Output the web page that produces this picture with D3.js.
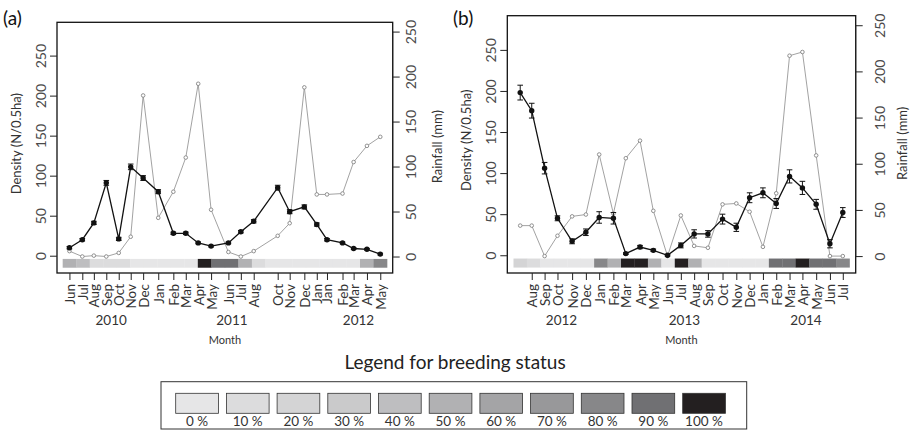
<!DOCTYPE html>
<html><head><meta charset="utf-8">
<script src="https://cdn.jsdelivr.net/npm/d3@7"></script>
<style>
body{margin:0;background:#fff}
text{font-family:Lato,"Open Sans",sans-serif}
</style>
</head><body>
<svg id="chart" width="911" height="440"></svg>
<script>
// ---------------- DATA ----------------
// Panel (a)
const datesA = ["2010-06-20","2010-07-19","2010-08-14","2010-09-11","2010-10-09","2010-11-05","2010-12-03",
  "2011-01-06","2011-02-09","2011-03-09","2011-04-06","2011-05-05","2011-06-13","2011-07-11","2011-08-09",
  "2011-10-02","2011-10-29","2011-12-01","2011-12-29","2012-01-21","2012-02-25","2012-03-21","2012-04-20","2012-05-20"];
const monthsA = ["Jun","Jul","Aug","Sep","Oct","Nov","Dec","Jan","Feb","Mar","Apr","May",
  "Jun","Jul","Aug","Oct","Nov","Dec","Jan","Jan","Feb","Mar","Apr","May"];
const densityA = [10,20,41,91,21,111,97,80,28,28,16,12,16,30,43,85,55,61,39,20,16,9,8,2];
const densityErrA = [1.5,1.5,2,3,2,3.5,3,2.5,1.5,1.5,1,1,1,1.5,2,3,2.5,2.5,2,1.5,1,1,1,1];
const rainA = [6,0,1,0,4,22,179,43,72,110,192,52,5,0,6,23,37,188,69,69,70,105,123,133];
const breedA = [50,40,10,10,10,0,0,0,0,0,100,90,90,50,10,0,0,0,0,0,0,0,50,80];
const yearsA = ["2010","2011","2012"];
const yearDatesA = ["2010-09-22","2011-06-21","2012-04-01"];

// Panel (b)
const datesB = ["2012-07-15","2012-08-10","2012-09-08","2012-10-07","2012-11-09","2012-12-10",
  "2013-01-09","2013-02-10","2013-03-10","2013-04-11","2013-05-11","2013-06-12","2013-07-12","2013-08-11",
  "2013-09-11","2013-10-14","2013-11-14","2013-12-14","2014-01-13","2014-02-12","2014-03-14","2014-04-12",
  "2014-05-13","2014-06-13","2014-07-12"];
const monthsB = ["","Aug","Sep","Oct","Nov","Dec","Jan","Feb","Mar","Apr","May","Jun","Jul",
  "Aug","Sep","Oct","Nov","Dec","Jan","Feb","Mar","Apr","May","Jun","Jul"];
const densityB = [198,176,106,45,17,28,46,45,2,10,6,0,12,26,26,44,34,70,76,63,96,82,62,14,52];
const densityErrB = [9,9,7,3,3,4,7,7,1,2,1.5,1,3,5,4,6,5,6,6,6,8,8,6,5,6];
const rainB = [33,33,0,22,43,45,110,46,106,125,49,0,44,11,9,56,57,48,10,68,217,221,109,0,0];
const breedB = [20,10,0,0,0,0,80,50,100,100,50,0,100,50,0,0,0,0,0,90,90,100,90,90,80];
const yearsB = ["2012","2013","2014"];
const yearDatesB = ["2012-10-16","2013-07-20","2014-04-20"];

// Axes / legend
const yTicks = [0,50,100,150,200,250];
const breedLevels = [0,10,20,30,40,50,60,70,80,90,100];
const breedColors = ["#e6e6e7","#dcdcdd","#d4d4d5","#cacacb","#bebec0","#b1b1b3","#a4a4a6","#98989a","#878789","#707073","#231f20"];

// ---------------- DRAW ----------------
const svg = d3.select("#chart");
const parse = d3.timeParse("%Y-%m-%d");
const colorOf = d3.scaleOrdinal().domain(breedLevels).range(breedColors);
const pad = (lo, hi) => { const r = hi - lo; return [lo - 0.04*r, hi + 0.04*r]; };

function drawPanel(cfg) {
  const g = svg.append("g");
  const dates = cfg.dates.map(parse);
  const ext = d3.extent(dates, d => +d);
  const xd = pad(ext[0], ext[1]);
  const x = d3.scaleTime().domain([new Date(xd[0]), new Date(xd[1])]).range([cfg.left, cfg.right]);
  const yL = d3.scaleLinear().domain(pad(-10, 280)).range([cfg.bottom, cfg.top]);
  const yR = d3.scaleLinear().domain(pad(-8, 250)).range([cfg.bottom, cfg.top]);

  // breeding strip (index based)
  const n = dates.length;
  const x0 = x(dates[0]), x1 = x(dates[n-1]);
  const step = (x1 - x0) / (n - 1);
  const xi = d3.scaleLinear().domain([0, n-1]).range([x0, x1]);
  g.selectAll("rect.strip").data(cfg.breed).join("rect")
    .attr("x", (d,i) => xi(i) - step/2)
    .attr("width", step + 0.3)
    .attr("y", yL(-4))
    .attr("height", yL(-15) - yL(-4))
    .attr("fill", d => colorOf(d));

  // rainfall
  const rainPts = cfg.rain.map((v,i) => [x(dates[i]), yR(v)]);
  g.append("path").attr("d", d3.line()(rainPts))
    .attr("fill","none").attr("stroke","#979797").attr("stroke-width",0.9);
  g.selectAll("circle.rain").data(rainPts).join("circle")
    .attr("cx", d => d[0]).attr("cy", d => d[1]).attr("r", 1.8)
    .attr("fill","#fff").attr("stroke","#858585").attr("stroke-width",0.9);

  // density
  const denPts = cfg.density.map((v,i) => [x(dates[i]), yL(v)]);
  g.append("path").attr("d", d3.line()(denPts))
    .attr("fill","none").attr("stroke","#111").attr("stroke-width",1.3);
  cfg.density.forEach((v,i) => {
    const e = cfg.err[i], cx = x(dates[i]);
    g.append("line").attr("x1",cx).attr("x2",cx).attr("y1",yL(v-e)).attr("y2",yL(v+e))
      .attr("stroke","#111").attr("stroke-width",1);
    [v-e, v+e].forEach(w => g.append("line").attr("x1",cx-2.8).attr("x2",cx+2.8)
      .attr("y1",yL(w)).attr("y2",yL(w)).attr("stroke","#111").attr("stroke-width",1));
  });
  g.selectAll("circle.den").data(denPts).join("circle")
    .attr("cx", d => d[0]).attr("cy", d => d[1]).attr("r", 2.7).attr("fill","#111");

  // box
  g.append("rect").attr("x",cfg.left).attr("y",cfg.top)
    .attr("width",cfg.right-cfg.left).attr("height",cfg.bottom-cfg.top)
    .attr("fill","none").attr("stroke","#111").attr("stroke-width",1.3);

  // left axis
  const aL = g.append("g").attr("transform",`translate(${cfg.left},0)`)
    .call(d3.axisLeft(yL).tickValues(yTicks).tickSize(7).tickSizeOuter(0));
  aL.select(".domain").remove();
  aL.selectAll(".tick line").attr("stroke","#222");
  aL.selectAll(".tick text").attr("x",0).attr("dy",null)
    .attr("transform","translate(-17,0) rotate(-90)").attr("text-anchor","middle")
    .attr("dominant-baseline","central")
    .style("font-size","14px").attr("fill","#4a4a4a");

  // right axis
  const aR = g.append("g").attr("transform",`translate(${cfg.right},0)`)
    .call(d3.axisRight(yR).tickValues(yTicks).tickSize(7).tickSizeOuter(0));
  aR.select(".domain").attr("d", `M0,${yR(0)}V${yR(250)}`).attr("stroke","#222");
  aR.selectAll(".tick line").attr("stroke","#222");
  aR.selectAll(".tick text").attr("x",0).attr("dy",null)
    .attr("transform",`translate(${cfg.rOff},0) rotate(-90)`).attr("text-anchor","middle")
    .attr("dominant-baseline","central")
    .style("font-size","14px").attr("fill","#4a4a4a");

  // bottom axis (months)
  const tickIdx = cfg.months.map((m,i) => i).filter(i => cfg.months[i] !== "");
  const aB = g.append("g").attr("transform",`translate(0,${cfg.bottom})`)
    .call(d3.axisBottom(x).tickValues(tickIdx.map(i => dates[i]))
      .tickFormat((d,k) => cfg.months[tickIdx[k]]).tickSize(7).tickSizeOuter(0));
  aB.select(".domain").remove();
  aB.selectAll(".tick line").attr("stroke","#222");
  aB.selectAll(".tick text").attr("y",0).attr("dy",null)
    .attr("transform","translate(0,11) rotate(-90)").attr("text-anchor","end")
    .attr("dominant-baseline","central")
    .style("font-size","13.5px").attr("fill","#333");

  // year labels
  g.selectAll("text.year").data(cfg.years).join("text")
    .attr("x",(d,i) => x(parse(cfg.yearDates[i]))).attr("y",325)
    .attr("text-anchor","middle").style("font-size","13.5px").attr("fill","#333").text(d => d);

  // axis titles
  g.append("text").attr("transform",`translate(${cfg.left-41},${(cfg.top+cfg.bottom)/2-4}) rotate(-90)`)
    .attr("text-anchor","middle").attr("dominant-baseline","central")
    .style("font-size","13px").attr("fill","#333").text("Density (N/0.5ha)");
  g.append("text").attr("transform",`translate(${cfg.right+cfg.rLab},${(cfg.top+cfg.bottom)/2-1}) rotate(-90)`)
    .attr("text-anchor","middle").attr("dominant-baseline","central")
    .style("font-size","13px").attr("fill","#333").text("Rainfall (mm)");
  g.append("text").attr("x",(cfg.left+cfg.right)/2).attr("y",344)
    .attr("text-anchor","middle").style("font-size","11px").attr("fill","#333").text("Month");
  g.append("text").attr("x",cfg.tagX).attr("y",25)
    .style("font-size","19px").attr("fill","#111").text(cfg.tag);
}

drawPanel({dates:datesA, months:monthsA, density:densityA, err:densityErrA, rain:rainA, breed:breedA,
  years:yearsA, yearDates:yearDatesA, left:57, right:392.7, top:22.3, bottom:273,
  rOff:18, rLab:44, tag:"(a)", tagX:3});
drawPanel({dates:datesB, months:monthsB, density:densityB, err:densityErrB, rain:rainB, breed:breedB,
  years:yearsB, yearDates:yearDatesB, left:507.3, right:855.7, top:15.7, bottom:273,
  rOff:24, rLab:46, tag:"(b)", tagX:453});

// legend
const lg = svg.append("g");
lg.append("text").attr("x",455).attr("y",369).attr("text-anchor","middle")
  .style("font-size","19px").attr("fill","#222").text("Legend for breeding status");
lg.append("rect").attr("x",161).attr("y",381.7).attr("width",585.7).attr("height",47.3)
  .attr("fill","#fff").attr("stroke","#333").attr("stroke-width",1);
const lx = d3.scaleLinear().domain([0,10]).range([175.7, 682.7]);
lg.selectAll("rect.sw").data(breedLevels).join("rect")
  .attr("x",(d,i) => lx(i)).attr("y",393.3).attr("width",42.7).attr("height",20)
  .attr("fill",d => colorOf(d)).attr("stroke","#333").attr("stroke-width",0.8);
lg.selectAll("text.sw").data(breedLevels).join("text")
  .attr("x",(d,i) => lx(i)+21.3).attr("y",426).attr("text-anchor","middle")
  .style("font-size","13.5px").attr("fill","#333").text(d => d + " %");
</script>
</body></html>
